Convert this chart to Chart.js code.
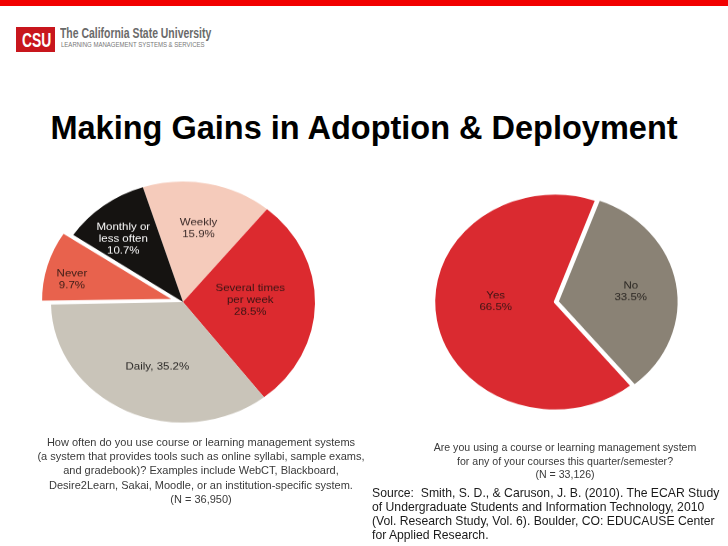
<!DOCTYPE html>
<html>
<head>
<meta charset="utf-8">
<script src="https://cdn.jsdelivr.net/npm/chart.js@4/dist/chart.umd.min.js"></script>
<style>
  html, body { margin: 0; padding: 0; }
  body { width: 728px; height: 546px; background: #fff; position: relative; overflow: hidden;
         font-family: "Liberation Sans", Arial, Helvetica, sans-serif; }
  .abs { position: absolute; }
  #topbar { left: 0; top: 0; width: 728px; height: 6px; background: #f20000; }
  #logo { left: 16px; top: 27px; width: 39px; height: 25px; background: #c8161d; }
  #logo span { position: absolute; left: 6px; top: 1px; color: #fff; font-weight: bold; font-size: 21px;
               transform: scaleX(0.66); transform-origin: 0 0; letter-spacing: 0px; }
  #org { left: 60px; top: 25px; font-weight: bold; font-size: 14px; color: #6a6a6a; white-space: nowrap;
         transform: scaleX(0.745); transform-origin: 0 0; }
  #sub { left: 61px; top: 41px; font-size: 7px; color: #777; white-space: nowrap;
         transform: scaleX(0.86); transform-origin: 0 0; }
  #title { left: 0; top: 110px; width: 728px; text-align: center; font-weight: bold; font-size: 32.5px;
           line-height: 36px; color: #000; }
  .cap { text-align: center; color: #3a3a3a; white-space: pre; }
  #capL { left: 0; width: 402px; top: 435px; font-size: 11px; line-height: 14.2px; }
  #capR { left: 365px; width: 400px; top: 441px; font-size: 10.6px; line-height: 13.5px; }
  #source { left: 372px; top: 486px; font-size: 12.2px; line-height: 14px; color: #1a1a1a; white-space: pre; }
  #wrapL { left: 33px; top: 152px; width: 300px; height: 300px; transform: scaleY(0.913); transform-origin: 50% 50%; }
  #wrapR { left: 415px; top: 162px; width: 280px; height: 280px; transform: scaleY(0.897); transform-origin: 50% 50%; }
</style>
</head>
<body>
<div id="topbar" class="abs"></div>
<div id="logo" class="abs"><span>CSU</span></div>
<div id="org" class="abs">The California State University</div>
<div id="sub" class="abs">LEARNING MANAGEMENT SYSTEMS &amp; SERVICES</div>
<div id="title" class="abs">Making Gains in Adoption &amp; Deployment</div>

<div id="wrapL" class="abs"><canvas id="pieL" width="300" height="300"></canvas></div>
<div id="wrapR" class="abs"><canvas id="pieR" width="280" height="280"></canvas></div>

<div id="capL" class="abs cap">How often do you use course or learning management systems
(a system that provides tools such as online syllabi, sample exams,
and gradebook)? Examples include WebCT, Blackboard,
Desire2Learn, Sakai, Moodle, or an institution-specific system.
(N = 36,950)</div>
<div id="capR" class="abs cap">Are you using a course or learning management system
for any of your courses this quarter/semester?
(N = 33,126)</div>
<div id="source" class="abs">Source:  Smith, S. D., &amp; Caruson, J. B. (2010). The ECAR Study
of Undergraduate Students and Information Technology, 2010
(Vol. Research Study, Vol. 6). Boulder, CO: EDUCAUSE Center
for Applied Research.</div>

<script>
// ---- Data: left pie (frequency of LMS use) ----
const freqCategories = ["Weekly", "Several times per week", "Daily", "Never", "Monthly or less often"];
const freqValues = [15.9, 28.5, 35.2, 9.7, 10.7];
const freqLabelLines = [
  ["Weekly", "15.9%"],
  ["Several times", "per week", "28.5%"],
  ["Daily, 35.2%"],
  ["Never", "9.7%"],
  ["Monthly or", "less often", "10.7%"]
];

// ---- Data: right pie (using an LMS this term) ----
const useCategories = ["Yes", "No"];
const useValues = [66.5, 33.5];
const useLabelLines = [
  ["Yes", "66.5%"],
  ["No", "33.5%"]
];

// ---- Styles (kept separate from data) ----
const freqColors = ["#f5cbbb", "#dc2a2f", "#c9c4b9", "#e8624d", "#151311"];
const freqTextColors = ["#3a2a28", "#3a1414", "#2a2826", "#3a1c16", "#ffffff"];
const freqLabelFrac = [0.62, 0.51, 0.57, 0.78, 0.69];
const freqLabelAngle = [0, -2.5, -5.6, -4, -4];
const useColors = ["#da2a30", "#8a8275"];
const useTextColors = ["#3a1414", "#2a2622"];
const useLabelFrac = [0.49, 0.61];
const useLabelAngle = [10.7, 1];

const sliceLabels = {
  id: "sliceLabels",
  afterDatasetsDraw(chart, args, opts) {
    const ctx = chart.ctx;
    const meta = chart.getDatasetMeta(0);
    ctx.save();
    ctx.font = opts.font;
    ctx.textAlign = "center";
    ctx.textBaseline = "middle";
    meta.data.forEach((arc, i) => {
      const p = arc.getProps(["x", "y", "startAngle", "endAngle", "outerRadius", "circumference"], true);
      const off = (arc.options.offset || 0) / 4;
      const fix = 1 - Math.sin(Math.min(Math.PI, p.circumference || 0));
      const shift = off * (1 + fix);
      const mid = (p.startAngle + p.endAngle) / 2 + opts.angle[i] * Math.PI / 180;
      const r = shift + opts.frac[i] * p.outerRadius;
      const cx = p.x + Math.cos(mid) * r;
      const cy = p.y + Math.sin(mid) * r;
      const lines = opts.lines[i];
      const lh = opts.lineHeight;
      ctx.fillStyle = opts.colors[i];
      lines.forEach((t, k) => {
        ctx.fillText(t, cx, cy + (k - (lines.length - 1) / 2) * lh);
      });
    });
    ctx.restore();
  }
};

const baseOpts = {
  responsive: false,
  animation: false,
  events: [],
  layout: { padding: 0 }
};

new Chart(document.getElementById("pieL"), {
  type: "pie",
  data: {
    labels: freqCategories,
    datasets: [{
      data: freqValues,
      backgroundColor: freqColors,
      borderColor: "#ffffff",
      borderWidth: [0, 0, 0, 3, 0],
      offset: [0, 0, 0, 30, 0]
    }]
  },
  options: Object.assign({}, baseOpts, {
    rotation: -17.7,
    radius: 132,
    plugins: {
      legend: { display: false },
      tooltip: { enabled: false },
      sliceLabels: {
        font: "11.5px 'Liberation Sans', Arial, sans-serif",
        lineHeight: 13,
        lines: freqLabelLines,
        colors: freqTextColors,
        frac: freqLabelFrac,
        angle: freqLabelAngle
      }
    }
  }),
  plugins: [sliceLabels]
});

new Chart(document.getElementById("pieR"), {
  type: "pie",
  data: {
    labels: useCategories,
    datasets: [{
      data: useValues,
      backgroundColor: useColors,
      borderColor: "#ffffff",
      borderWidth: 2.5,
      offset: [0, 10]
    }]
  },
  options: Object.assign({}, baseOpts, {
    rotation: 140.6,
    radius: 121,
    plugins: {
      legend: { display: false },
      tooltip: { enabled: false },
      sliceLabels: {
        font: "11.5px 'Liberation Sans', Arial, sans-serif",
        lineHeight: 13,
        lines: useLabelLines,
        colors: useTextColors,
        frac: useLabelFrac,
        angle: useLabelAngle
      }
    }
  }),
  plugins: [sliceLabels]
});
</script>
</body>
</html>
